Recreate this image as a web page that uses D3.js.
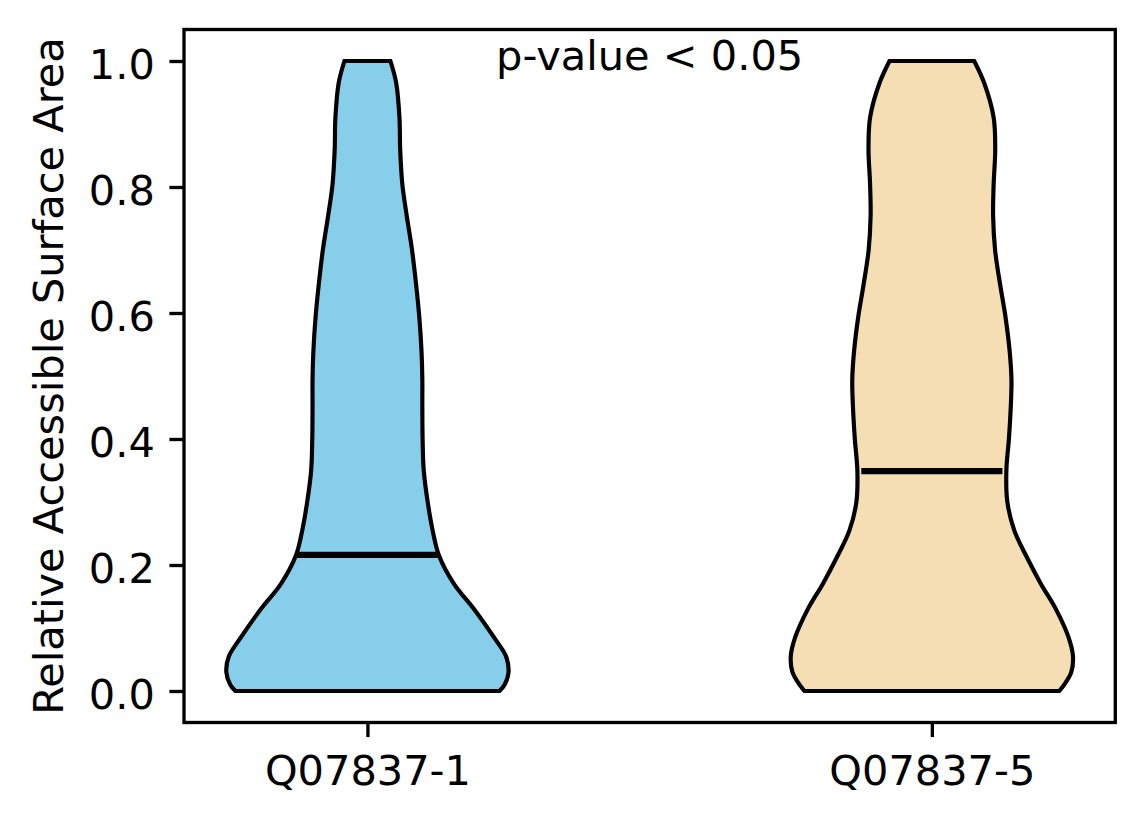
<!DOCTYPE html>
<html>
<head>
<meta charset="utf-8">
<script src="https://cdn.jsdelivr.net/npm/d3@7"></script>
<style>
  html, body { margin: 0; padding: 0; background: #fff; }
  svg { display: block; }
  text { font-family: "DejaVu Sans", sans-serif; fill: #000; }
</style>
</head>
<body>
<div id="chart"></div>
<script>
// Violin plot: relative accessible surface area for two isoforms

const categories = ['Q07837-1', 'Q07837-5'];
const positions  = [1, 2];
const fills      = ['#87ceeb', '#f5deb3'];
const yTickValues = [0.0, 0.2, 0.4, 0.6, 0.8, 1.0];
const medians    = [0.216, 0.349];
const annotation = 'p-value < 0.05';
const yTitle     = 'Relative Accessible Surface Area';

// KDE outline: value levels and relative density (max = 1)
const rasLevels = [0, 0.01, 0.03, 0.055, 0.085, 0.13, 0.17, 0.215, 0.255, 0.3, 0.35, 0.4,
                   0.455, 0.495, 0.54, 0.595, 0.645, 0.7, 0.755, 0.805, 0.86, 0.91, 0.965, 1.0];
const densityQ1 = [0.936, 0.972, 1.0, 0.982, 0.897, 0.755, 0.613, 0.507, 0.462, 0.427, 0.399, 0.391,
                   0.389, 0.389, 0.383, 0.367, 0.345, 0.316, 0.278, 0.247, 0.232, 0.227, 0.204, 0.163];
const densityQ5 = [0.903, 0.938, 0.988, 1.0, 0.969, 0.879, 0.773, 0.667, 0.584, 0.535, 0.528, 0.546,
                   0.560, 0.564, 0.551, 0.521, 0.484, 0.448, 0.434, 0.438, 0.449, 0.438, 0.371, 0.300];
const densities = [densityQ1, densityQ5];

// ─── Layout ────────────────────────────────────────────────────────────────
const W = 1144, H = 824;
const margin = { top: 29.5, right: 28.7, bottom: 101.5, left: 184 };
const fontSize = 41.5;
const pt = 300 / 72;
const violinWidth = 0.5;

const svg = d3.select('#chart').append('svg')
  .attr('width', W)
  .attr('height', H);

svg.append('rect').attr('width', W).attr('height', H).attr('fill', '#fff');

const x = d3.scaleLinear()
  .domain([0.675, 2.325])
  .range([margin.left, W - margin.right]);

const y = d3.scaleLinear()
  .domain([-0.05, 1.05])
  .range([H - margin.bottom, margin.top]);

// ─── Violins ───────────────────────────────────────────────────────────────
const gViolins = svg.append('g').attr('class', 'violins');

categories.forEach((name, i) => {
  const pos  = positions[i];
  const half = violinWidth / 2;
  const pts  = rasLevels.map((v, k) => ({ v, d: densities[i][k] }));

  const area = d3.area()
    .curve(d3.curveCatmullRom.alpha(0.5))
    .y(p => y(p.v))
    .x0(p => x(pos - half * p.d))
    .x1(p => x(pos + half * p.d));

  gViolins.append('path')
    .attr('d', area(pts))
    .attr('fill', fills[i])
    .attr('stroke', '#000')
    .attr('stroke-width', 1 * pt);

  gViolins.append('line')
    .attr('x1', x(pos - violinWidth / 4))
    .attr('x2', x(pos + violinWidth / 4))
    .attr('y1', y(medians[i]))
    .attr('y2', y(medians[i]))
    .attr('stroke', '#000')
    .attr('stroke-width', 1.5 * pt);
});

// ─── Axes ──────────────────────────────────────────────────────────────────
const tickLen = 3.5 * pt;

const gY = svg.append('g')
  .attr('transform', `translate(${margin.left},0)`)
  .call(d3.axisLeft(y)
    .tickValues(yTickValues)
    .tickFormat(d3.format('.1f'))
    .tickSize(tickLen)
    .tickPadding(3.5 * pt));

const gX = svg.append('g')
  .attr('transform', `translate(0,${H - margin.bottom})`)
  .call(d3.axisBottom(x)
    .tickValues(positions)
    .tickFormat((d, i) => categories[i])
    .tickSize(tickLen)
    .tickPadding(18));

[gX, gY].forEach(g => {
  g.select('.domain').remove();
  g.selectAll('.tick line').attr('stroke', '#000').attr('stroke-width', 0.8 * pt);
  g.selectAll('.tick text')
    .attr('font-family', '"DejaVu Sans", sans-serif')
    .attr('font-size', fontSize)
    .attr('fill', '#000');
});
gY.selectAll('.tick text').attr('dy', '0.41em');

// frame
svg.append('rect')
  .attr('x', x.range()[0])
  .attr('y', y.range()[1])
  .attr('width', x.range()[1] - x.range()[0])
  .attr('height', y.range()[0] - y.range()[1])
  .attr('fill', 'none')
  .attr('stroke', '#000')
  .attr('stroke-width', 0.8 * pt);

// ─── Text ──────────────────────────────────────────────────────────────────
svg.append('text')
  .attr('transform', `translate(63,${(y.range()[0] + y.range()[1]) / 2}) rotate(-90)`)
  .attr('text-anchor', 'middle')
  .attr('font-size', fontSize)
  .text(yTitle);

svg.append('text')
  .attr('x', x(1.5))
  .attr('y', 70)
  .attr('text-anchor', 'middle')
  .attr('font-size', fontSize)
  .text(annotation);
</script>
</body>
</html>
